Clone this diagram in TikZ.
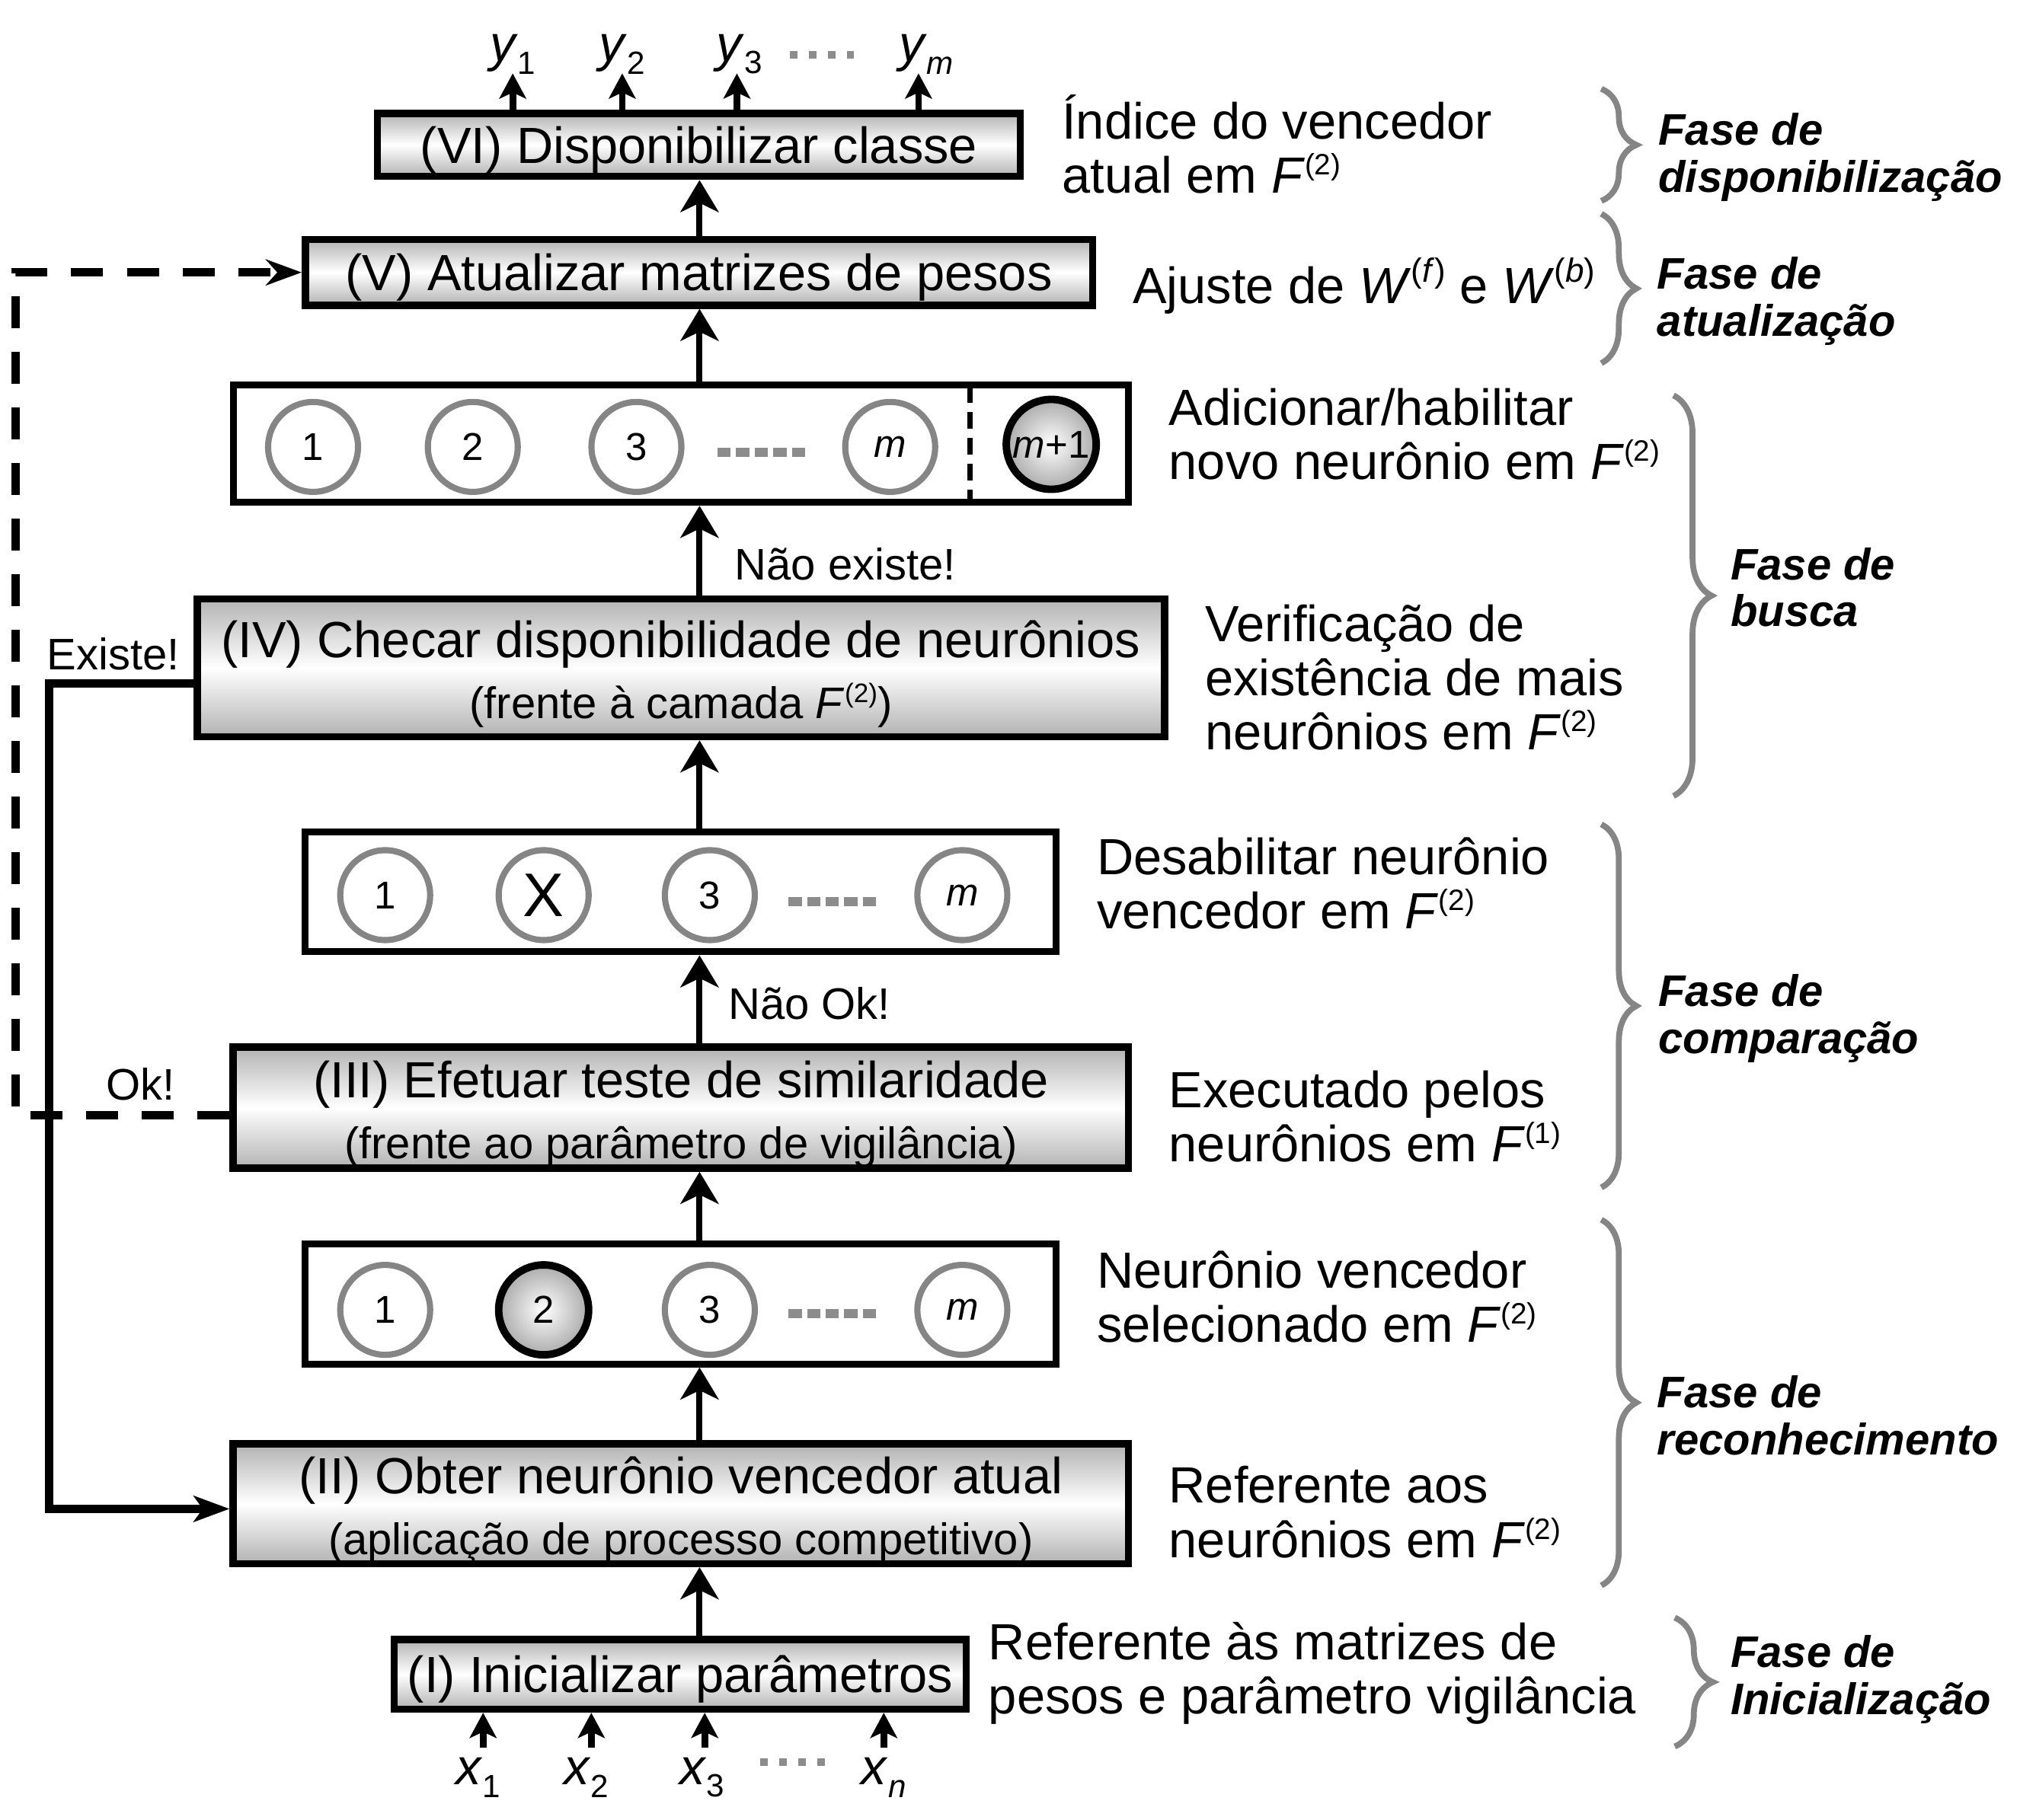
\documentclass[tikz,border=0pt]{standalone}
\usepackage{fontspec}
\setmainfont{Liberation Sans}
\usetikzlibrary{arrows.meta,decorations.pathreplacing,fit,calc}
\newcommand\bigf{\fontsize{19}{20.3}\selectfont}
\newcommand\midf{\fontsize{16.5}{18}\selectfont}
\newcommand\cirf{\fontsize{14.5}{16}\selectfont}
\newcommand\phf{\fontsize{16.5}{17.6}\selectfont\bfseries\itshape}
\newcommand\Fsup[2]{\textit{F}\raisebox{0.36em}{\fontsize{#2}{#2}\selectfont(#1)}}
\newcommand\Wsup[1]{\textit{W}\raisebox{0.43em}{\fontsize{12.5}{12.5}\selectfont(\textit{#1})}}
\newcommand\lbl[2]{\textit{#1}\raisebox{-0.25em}{\fontsize{12}{12}\selectfont #2}}
\definecolor{rimgray}{HTML}{858585}
\tikzset{
  box/.style={draw=black, line width=2.7pt, top color=black!30, bottom color=black!30, middle color=white, inner sep=0pt},
  btxt/.style={inner sep=0pt, align=center, font=\bigf},
  cbox/.style={draw=black, line width=2.6pt, fill=white, inner sep=0pt},
  neu/.style={circle, draw=rimgray, line width=2.3pt, minimum size=1.18cm, inner sep=0pt, font=\cirf, fill=white},
  win/.style={circle, draw=black, line width=2.8pt, minimum size=1.18cm, inner sep=0pt, font=\cirf, inner color=white, outer color=black!33},
  arr/.style={line width=2.3pt, -{Stealth[length=0.42cm, width=0.5cm, inset=0.12cm]}},
  sarr/.style={line width=2.5pt, -{Stealth[length=0.33cm, width=0.35cm, inset=0.08cm]}},
  lnk/.style={line width=3.2pt, -{Stealth[length=0.47cm, width=0.34cm, inset=0.12cm]}},
  dsh/.style={line width=3.1pt, dash pattern=on 0.42cm off 0.31cm, -{Stealth[length=0.47cm, width=0.34cm, inset=0.15cm]}},
  dotsb/.style={draw=black!45, line width=0.12cm, dash pattern=on 0.174cm off 0.07cm},
  dotss/.style={draw=black!45, line width=0.1cm, dash pattern=on 0.1cm off 0.15cm},
  sep/.style={draw=black, line width=2pt, dash pattern=on 0.22cm off 0.12cm},
  lab/.style={font=\midf, inner sep=0pt},
  desc/.style={font=\bigf, inner sep=0pt, anchor=west, align=left},
  phase/.style={font=\phf, inner sep=0pt, anchor=west, align=left},
  brc/.style={draw=rimgray, line width=2.2pt, decorate, decoration={brace, amplitude=#1}},
  brc/.default=0.46cm,
  io/.style={font=\bigf, inner sep=0pt}
}
\begin{document}
\begin{tikzpicture}[x=0.016913cm,y=-0.016913cm]
\useasboundingbox (0,0) rectangle (1568,1413);
\coordinate (ax) at (543,0);

% main boxes
\node[box, fit={(293,88)(792,137)}] (b6) {};
\node[box, fit={(237,186)(848,237)}] (b5) {};
\node[cbox, fit={(181,299)(876,390)}] (c3) {};
\node[box, fit={(153,465)(904,572)}] (b4) {};
\node[cbox, fit={(237,646)(820,739)}] (c2) {};
\node[box, fit={(181,813)(876,907)}] (b3) {};
\node[cbox, fit={(237,966)(820,1059)}] (c1) {};
\node[box, fit={(181,1121)(876,1214)}] (b2) {};
\node[box, fit={(306,1273)(750,1327)}] (b1) {};

\node[btxt] (t6) at ($(b6.center)+(0,4)$) {(VI) Disponibilizar classe};
\node[btxt] (t5) at ($(b5.center)+(0,4)$) {(V) Atualizar matrizes de pesos};
\node[btxt] (t4) at ($(b4.center)+(0,5)$) {(IV) Checar disponibilidade de neurônios\\[2.5pt]{\midf (frente à camada \Fsup{2}{10})}};
\node[btxt] (t3) at ($(b3.center)+(0,5)$) {(III) Efetuar teste de similaridade\\[2.5pt]{\midf (frente ao parâmetro de vigilância)}};
\node[btxt] (t2) at ($(b2.center)+(0,5)$) {(II) Obter neurônio vencedor atual\\[2.5pt]{\midf (aplicação de processo competitivo)}};
\node[btxt] (t1) at ($(b1.center)+(0,4)$) {(I) Inicializar parâmetros};

% neurons, layer c3
\node[neu] (n31) at (243,347) {1};
\node[neu] (n32) at (367,347) {2};
\node[neu] (n33) at (494,347) {3};
\node[neu] (n3m) at (691,347) {\textit{m}};
\node[win] (n3n) at (816,345) {\textit{m}+1};
\draw[dotsb] (557,351) -- (625,351);
\draw[sep] (753,300) -- (753,388);

% neurons, layer c2
\node[neu] (n21) at (299,695) {1};
\node[neu, font=\fontsize{23}{24}\selectfont] (n22) at (422,695) {X};
\node[neu] (n23) at (551,695) {3};
\node[neu] (n2m) at (747,695) {\textit{m}};
\draw[dotsb] (612,700) -- (680,700);

% neurons, layer c1
\node[neu] (n11) at (299,1017) {1};
\node[win] (n12) at (422,1017) {2};
\node[neu] (n13) at (551,1017) {3};
\node[neu] (n1m) at (747,1017) {\textit{m}};
\draw[dotsb] (612,1020) -- (680,1020);

% vertical flow
\draw[arr] (b1.north -| ax) -- (b2.south -| ax);
\draw[arr] (b2.north -| ax) -- (c1.south -| ax);
\draw[arr] (c1.north -| ax) -- (b3.south -| ax);
\draw[arr] (b3.north -| ax) -- (c2.south -| ax);
\draw[arr] (c2.north -| ax) -- (b4.south -| ax);
\draw[arr] (b4.north -| ax) -- (c3.south -| ax);
\draw[arr] (c3.north -| ax) -- (b5.south -| ax);
\draw[arr] (b5.north -| ax) -- (b6.south -| ax);

\node[lab, anchor=west] (lnex) at (570,438) {Não existe!};
\node[lab, anchor=west] (lnok) at (565,779) {Não Ok!};

% feedback links
\draw[lnk] ($(b4.west)+(0,12)$) -- ++(-112,0) |- ($(b2.west)+(0,4)$);
\node[lab] (lex) at (88,508) {Existe!};
\draw[dsh] ($(b3.west)+(0,6)$) -- ++(-166,0) |- (b5.west);
\node[lab] (lok) at (109,842) {Ok!};

% outputs
\node[io] (y1) at (398,42) {\lbl{y}{1}};
\node[io] (y2) at (483,42) {\lbl{y}{2}};
\node[io] (y3) at (574,42) {\lbl{y}{3}};
\node[io] (ym) at (719,42) {\lbl{y}{\textit{m}}};
\coordinate (y1a) at (398,57);
\coordinate (y2a) at (483,57);
\coordinate (y3a) at (572,57);
\coordinate (yma) at (713,57);
\draw[sarr] (b6.north -| y1a) -- (y1a);
\draw[sarr] (b6.north -| y2a) -- (y2a);
\draw[sarr] (b6.north -| y3a) -- (y3a);
\draw[sarr] (b6.north -| yma) -- (yma);
\draw[dotss] (613,42.5) -- (663,42.5);

% inputs
\node[io] (x1) at (371,1380) {\lbl{x}{1}};
\node[io] (x2) at (455,1380) {\lbl{x}{2}};
\node[io] (x3) at (545,1380) {\lbl{x}{3}};
\node[io] (xn) at (686,1380) {\lbl{x}{\textit{n}}};
\coordinate (x1a) at (375,1357);
\coordinate (x2a) at (459,1357);
\coordinate (x3a) at (547,1357);
\coordinate (xna) at (686,1357);
\draw[sarr] (x1a) -- (x1a |- b1.south);
\draw[sarr] (x2a) -- (x2a |- b1.south);
\draw[sarr] (x3a) -- (x3a |- b1.south);
\draw[sarr] (xna) -- (xna |- b1.south);
\draw[dotss] (590,1368) -- (643,1368);

% descriptions
\node[desc] (d6) at (824,112) {Índice do vencedor\\atual em \Fsup{2}{11}};
\node[desc] (d5) at (879,222) {Ajuste de \Wsup{f} e \Wsup{b}};
\node[desc] (d4a) at (907,337) {Adicionar/habilitar\\novo neurônio em \Fsup{2}{11}};
\node[desc] (d4) at (935,526) {Verificação de\\existência de mais\\neurônios em \Fsup{2}{11}};
\node[desc] (d3a) at (851,686) {Desabilitar neurônio\\vencedor em \Fsup{2}{11}};
\node[desc] (d3) at (907,867) {Executado pelos\\neurônios em \Fsup{1}{11}};
\node[desc] (d2a) at (851,1007) {Neurônio vencedor\\selecionado em \Fsup{2}{11}};
\node[desc] (d2) at (907,1174) {Referente aos\\neurônios em \Fsup{2}{11}};
\node[desc] (d1) at (767,1299) {Referente às matrizes de\\pesos e parâmetro vigilância};

% phases
\draw[brc] (1243,69) -- (1243,156);
\node[phase] (p6) at (1287,122) {Fase de\\disponibilização};
\draw[brc] (1243,166) -- (1243,282);
\node[phase] (p5) at (1286,234) {Fase de\\atualização};
\draw[brc=0.5cm] (1299,307) -- (1299,618);
\node[phase] (p4) at (1343,456) {Fase de\\busca};
\draw[brc] (1243,640) -- (1243,922);
\node[phase] (p3) at (1287,791) {Fase de\\comparação};
\draw[brc] (1243,947) -- (1243,1231);
\node[phase] (p2) at (1286,1099) {Fase de\\reconhecimento};
\draw[brc=0.5cm] (1300,1256) -- (1300,1356);
\node[phase] (p1) at (1343,1304) {Fase de\\Inicialização};
\end{tikzpicture}
\end{document}
